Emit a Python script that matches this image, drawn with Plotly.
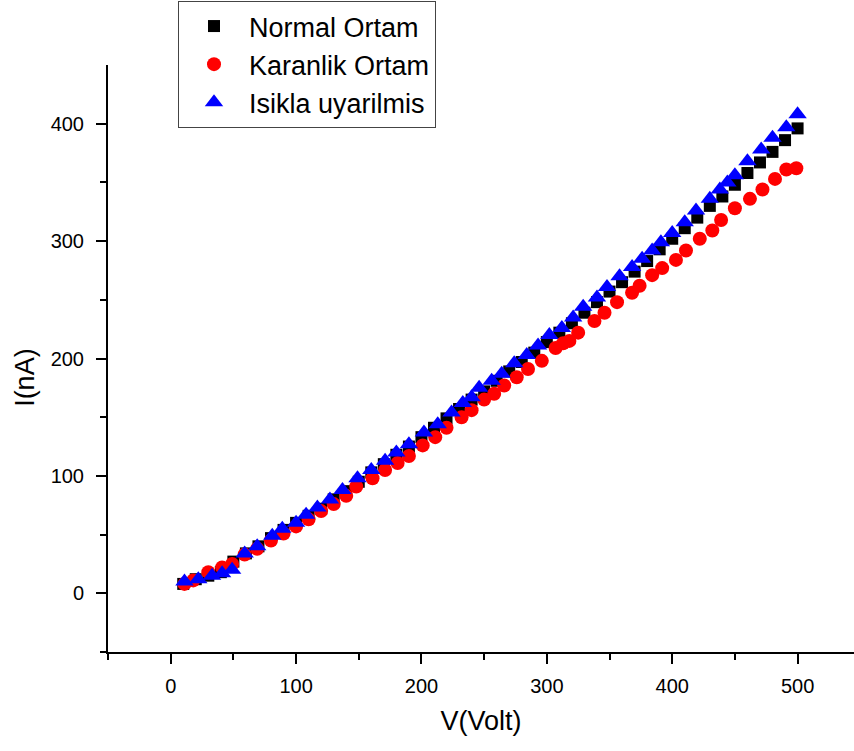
import plotly.graph_objects as go

# Normal Ortam (black squares)
v_normal = [10, 20, 30, 40, 50, 60, 70, 80, 90, 100, 110, 120, 130, 140, 150, 160, 170, 180, 190, 200,
            210, 220, 230, 240, 250, 260, 270, 280, 290, 300, 310, 320, 330, 340, 350, 360, 370, 380, 390, 400,
            410, 420, 430, 440, 450, 460, 470, 480, 490, 500]
i_normal = [8, 12, 15, 18, 27, 34, 40, 47, 54, 60, 66, 72, 80, 87, 95, 103, 110, 118, 125, 133,
            141, 149, 157, 165, 172, 181, 189, 197, 205, 214, 222, 230, 239, 248, 257, 265, 274, 283, 293, 302,
            311, 320, 330, 338, 348, 358, 367, 376, 386, 396]

# Karanlik Ortam (red circles)
v_dark = [11, 18, 30, 41, 49, 59, 69, 80, 90, 100, 110, 120, 130, 140, 148, 161, 171, 181, 190, 201,
          211, 220, 232, 240, 250, 258, 266, 276, 285, 296, 307, 313, 318, 325, 338, 346, 356, 368, 374, 384,
          392, 403, 411, 422, 432, 439, 450, 462, 472, 482, 491, 499]
i_dark = [8, 11, 18, 22, 25, 33, 38, 45, 51, 57, 63, 70, 76, 83, 91, 98, 105, 111, 117, 126,
          133, 141, 150, 156, 165, 170, 177, 184, 191, 198, 209, 213, 215, 222, 232, 239, 248, 256, 262, 271,
          277, 284, 292, 302, 309, 318, 328, 336, 344, 353, 361, 362]

# Isikla uyarilmis (blue triangles)
v_light = [11, 22, 33, 41, 49, 59, 69, 81, 89, 100, 108, 117, 127, 137, 149, 160, 171, 180, 190, 202,
           213, 224, 233, 240, 246, 256, 264, 274, 284, 293, 302, 312, 321, 329, 340, 348, 358, 368, 376, 384,
           391, 400, 410, 419, 430, 438, 444, 450, 460, 471, 480, 491, 500]
i_light = [10, 12, 15, 17, 20, 34, 40, 49, 55, 60, 67, 73, 80, 88, 98, 105, 113, 120, 127, 137,
           144, 154, 162, 167, 175, 181, 187, 196, 203, 211, 220, 226, 235, 244, 252, 261, 270, 278, 285, 292,
           299, 307, 316, 326, 336, 344, 350, 356, 368, 378, 388, 397, 408]

x_ticks = [0, 100, 200, 300, 400, 500]
y_ticks = [0, 100, 200, 300, 400]

FONT = "Liberation Sans, Arial, sans-serif"

fig = go.Figure()
fig.add_trace(go.Scatter(x=v_normal, y=i_normal, mode="markers", name="Normal Ortam",
                         marker=dict(symbol="square", size=12, color="black", line=dict(width=0))))
fig.add_trace(go.Scatter(x=v_dark, y=i_dark, mode="markers", name="Karanlik Ortam",
                         marker=dict(symbol="circle", size=14, color="#ff0000", line=dict(width=0))))
fig.add_trace(go.Scatter(x=v_light, y=i_light, mode="markers", name="Isikla uyarilmis",
                         marker=dict(symbol="triangle-up", size=16, color="#0000ff", line=dict(width=0))))

fig.update_layout(
    width=854, height=751,
    margin=dict(l=108, r=0, t=65, b=99, autoexpand=False),
    paper_bgcolor="white", plot_bgcolor="white",
    font=dict(family=FONT, color="black"),
    showlegend=True,
    legend=dict(
        xref="container", yref="container",
        x=178 / 854, y=1 - 1 / 751, xanchor="left", yanchor="top",
        bgcolor="white", bordercolor="#444", borderwidth=1,
        font=dict(size=27, family=FONT),
        itemwidth=60,
    ),
    xaxis=dict(
        range=[-50, 545], tickvals=x_ticks, ticktext=[str(t) for t in x_ticks],
        showgrid=False, zeroline=False, showline=True, linecolor="black", linewidth=2,
        ticks="outside", ticklen=10, tickwidth=2, tickcolor="black",
        minor=dict(tickvals=[-50, 50, 150, 250, 350, 450], ticks="outside", ticklen=6, tickwidth=2,
                   tickcolor="black", showgrid=False),
        tickfont=dict(size=20), ticklabelstandoff=5,
        title=dict(text="V(Volt)", font=dict(size=27)),
    ),
    yaxis=dict(
        range=[-50, 450], tickvals=y_ticks, ticktext=[str(t) for t in y_ticks],
        showgrid=False, zeroline=False, showline=True, linecolor="black", linewidth=2,
        ticks="outside", ticklen=10, tickwidth=2, tickcolor="black",
        minor=dict(tickvals=[-50, 50, 150, 250, 350], ticks="outside", ticklen=6, tickwidth=2,
                   tickcolor="black", showgrid=False),
        tickfont=dict(size=20), ticklabelstandoff=8,
    ),
    annotations=[dict(
        text="I(nA)", textangle=-90, showarrow=False,
        xref="paper", yref="paper", x=0, y=0.467, xanchor="center", yanchor="middle",
        xshift=-83, font=dict(size=27, family=FONT, color="black"),
    )],
)

fig.write_html("out.html")
